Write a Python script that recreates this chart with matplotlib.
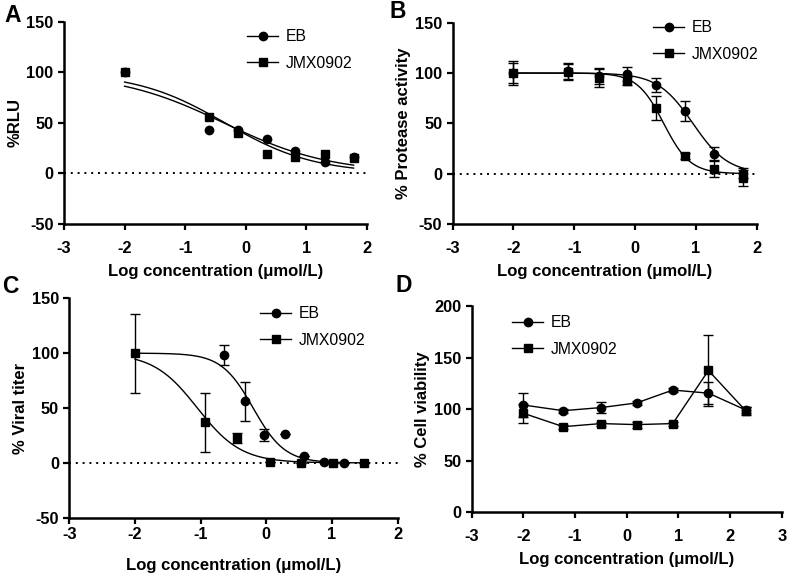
import numpy as np
import matplotlib.pyplot as plt

plt.rcParams['font.family'] = ['Liberation Sans', 'DejaVu Sans']
plt.rcParams['axes.unicode_minus'] = False

# ---- panel A: %RLU ----
a_eb_x = [-2.0, -0.6, -0.13, 0.35, 0.82, 1.3, 1.78]
a_eb_y = [100, 43, 43, 34, 22, 11, 16]
a_jmx_x = [-2.0, -0.6, -0.13, 0.35, 0.82, 1.3, 1.78]
a_jmx_y = [100, 56, 40, 19, 16, 19, 15]
# 4PL fit parameters: top, bottom, logIC50, hill
a_eb_fit = (100, 0, -0.34, 0.59)
a_jmx_fit = (100, 0, -0.36, 0.49)

# ---- panel B: protease activity ----
b_x = [-2.0, -1.1, -0.6, -0.13, 0.35, 0.82, 1.3, 1.78]
b_eb_y = [100, 102, 97, 99, 88, 62, 20, 1]
b_eb_err = [10, 8, 8, 7, 7, 10, 6, 5]
b_jmx_y = [100, 101, 95, 92, 65, 18, 5, -4]
b_jmx_err = [12, 8, 9, 4, 12, 3, 8, 8]
b_eb_fit = (100, 0, 0.95, 1.5)
b_jmx_fit = (100, 0, 0.47, 2.0)

# ---- panel C: viral titer ----
c_eb_x = [-0.65, -0.32, -0.03, 0.28, 0.57, 0.88, 1.19]
c_eb_y = [98, 56, 25, 26, 6, 1, 0.3]
c_eb_err = [9, 18, 5.5, 0, 0, 0, 0]
c_jmx_x = [-2.0, -0.93, -0.45, 0.05, 0.53, 1.02, 1.49]
c_jmx_y = [100, 37, 22.5, 1, 0, 0, 0]
c_jmx_err = [36, 27, 4.5, 0, 0, 0, 0]
c_eb_fit = (100, 0, -0.2, 1.8)
c_jmx_fit = (100, 0, -1.05, 1.3)

# ---- panel D: cell viability ----
d_x = [-2.0, -1.23, -0.5, 0.19, 0.89, 1.58, 2.31]
d_eb_y = [104, 98.5, 101.5, 106, 118.5, 115.5, 99]
d_eb_err = [12, 2, 5, 2, 2, 11, 3]
d_jmx_y = [96, 83, 86, 85, 86, 137.5, 98]
d_jmx_err = [9, 2, 2, 3, 2, 34, 4]


def logistic(x, p):
    top, bottom, c, h = p
    return bottom + (top - bottom) / (1 + 10 ** ((x - c) * h))


W, H = 787, 578
fig = plt.figure(figsize=(W / 100, H / 100), dpi=100)
axA = fig.add_axes([0.0813, 0.6125, 0.385, 0.3495])
axB = fig.add_axes([0.5752, 0.6125, 0.3863, 0.3482])
axC = fig.add_axes([0.0881, 0.1043, 0.4171, 0.3796])
axD = fig.add_axes([0.5994, 0.1137, 0.3940, 0.3569])

mk = dict(color='black', markersize=6, linewidth=1)
eb = dict(fmt='o', capsize=3.5, elinewidth=1, capthick=1, **mk)
jm = dict(fmt='s', capsize=3.5, elinewidth=1, capthick=1, **mk)


def style(ax, xlim, ylim, yticks, ylabel, xpad, lpad, zero=True):
    ax.set_xlim(*xlim)
    ax.set_ylim(*ylim)
    ax.set_xticks(np.arange(xlim[0], xlim[1] + 1))
    ax.set_yticks(yticks)
    for s in ['top', 'right']:
        ax.spines[s].set_visible(False)
    for s in ['left', 'bottom']:
        ax.spines[s].set_linewidth(1.8)
    ax.tick_params(width=1.6, length=4.5, labelsize=11.8)
    ax.tick_params(axis='x', pad=xpad)
    ax.tick_params(axis='y', pad=3)
    for t in ax.get_xticklabels() + ax.get_yticklabels():
        t.set_fontweight('bold')
    ax.set_xlabel('Log concentration (\u03bcmol/L)', fontsize=12, fontweight='bold',
                  labelpad=lpad)
    ax.set_ylabel(ylabel, fontsize=12, fontweight='bold', labelpad=3)
    if zero:
        ax.axhline(0, color='black', linestyle=(0, (1, 2.5)), linewidth=1.4)


def legend(ax, x0, y0):
    l1, = ax.plot([], [], marker='o', **mk)
    l2, = ax.plot([], [], marker='s', **mk)
    ax.legend([l1, l2], ['EB', 'JMX0902'], loc='upper left', frameon=False,
              fontsize=11.3, bbox_to_anchor=(x0 / W, 1 - y0 / H),
              bbox_transform=fig.transFigure, borderpad=0, borderaxespad=0,
              handlelength=2.0, handletextpad=0.5, labelspacing=0.75)


# A
xs = np.linspace(-2, 1.78, 200)
axA.plot(xs, logistic(xs, a_eb_fit), color='black', lw=1)
axA.plot(xs, logistic(xs, a_jmx_fit), color='black', lw=1)
axA.plot(a_eb_x, a_eb_y, 'o', **mk)
axA.plot(a_jmx_x, a_jmx_y, 's', **mk)
style(axA, (-3, 2), (-50, 150), [-50, 0, 50, 100, 150], '%RLU', 7.5, 6)
legend(axA, 247, 29)

# B
axB.plot(xs, logistic(xs, b_eb_fit), color='black', lw=1)
axB.plot(xs, logistic(xs, b_jmx_fit), color='black', lw=1)
axB.errorbar(b_x, b_eb_y, yerr=b_eb_err, **eb)
axB.errorbar(b_x, b_jmx_y, yerr=b_jmx_err, **jm)
style(axB, (-3, 2), (-50, 150), [-50, 0, 50, 100, 150], '% Protease activity', 7.5, 6)
legend(axB, 653, 20)

# C
xc1 = np.linspace(-2, 1.19, 200)
xc2 = np.linspace(-2, 1.49, 200)
axC.plot(xc1, logistic(xc1, c_eb_fit), color='black', lw=1)
axC.plot(xc2, logistic(xc2, c_jmx_fit), color='black', lw=1)
axC.errorbar(c_eb_x, c_eb_y, yerr=c_eb_err, **eb)
axC.errorbar(c_jmx_x, c_jmx_y, yerr=c_jmx_err, **jm)
style(axC, (-3, 2), (-50, 150), [-50, 0, 50, 100, 150], '% Viral titer', 2.5, 11)
legend(axC, 260, 306)

# D
axD.errorbar(d_x, d_eb_y, yerr=d_eb_err, fmt='o-', capsize=3.5, elinewidth=1,
             capthick=1, **mk)
axD.errorbar(d_x, d_jmx_y, yerr=d_jmx_err, fmt='s-', capsize=3.5, elinewidth=1,
             capthick=1, **mk)
style(axD, (-3, 3), (0, 200), [0, 50, 100, 150, 200], '% Cell viability', 7.5, 6,
      zero=False)
legend(axD, 512, 315)

# panel letters
for letter, px, py in [('A', 13, 15.5), ('B', 397.5, 11.5), ('C', 10.5, 286.5),
                       ('D', 403.5, 286)]:
    fig.text(px / W, 1 - py / H, letter, fontsize=16.5, fontweight='bold',
             ha='center', va='center')

fig.savefig('out.png', dpi=100)
